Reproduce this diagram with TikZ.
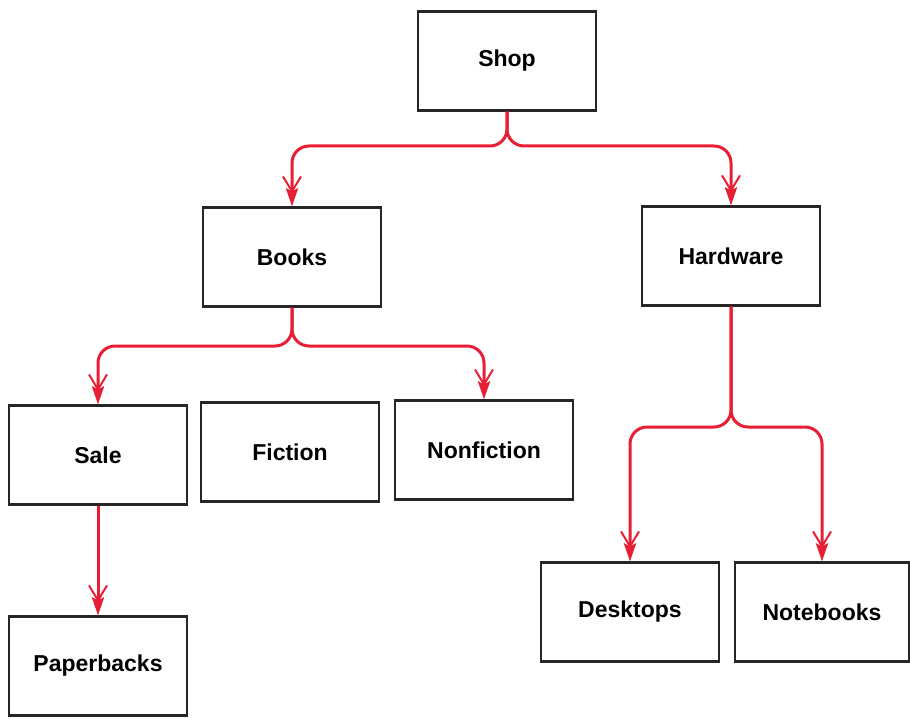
\documentclass[tikz,border=0pt]{standalone}
\usepackage{fontspec}
\setmainfont{Liberation Sans}
\usetikzlibrary{arrows.meta}
\definecolor{linkred}{RGB}{232,30,52}
\begin{document}
\begin{tikzpicture}[x=1pt,y=-1pt,
  box/.style={draw=black!85, line width=2.2pt, fill=white, minimum width=178pt,
    minimum height=99pt, inner sep=0pt, font=\fontsize{23}{27}\selectfont\bfseries},
  link/.style={draw=linkred, line width=3pt, rounded corners=17pt,
    -{Straight Barb[length=15pt,width=18pt,line width=2pt,sep=-5pt]Stealth[length=18pt,width=12pt,inset=3pt]}}]
  \useasboundingbox (0,0) rectangle (910,719);
  \fill[white] (0,0) rectangle (910,719);

  % tree nodes
  \node[box] (shop)  at (507,61)  {Shop};
  \node[box] (books) at (292,257) {Books};
  \node[box] (hard)  at (731,256) {Hardware};
  \node[box] (sale)  at (98,455)  {Sale};
  \node[box] (fict)  at (290,452) {Fiction};
  \node[box] (nonf)  at (484,450) {Nonfiction};
  \node[box] (paper) at (98,666)  {Paperbacks};
  \node[box] (desk)  at (630,612) {Desktops};
  \node[box, minimum width=174pt] (note) at (822,612) {Notebooks};

  % branching connectors
  \draw[link] (shop.south) -- (shop.south |- 0,146) -| (books.north);
  \draw[link] (shop.south) -- (shop.south |- 0,146) -| (hard.north);
  \draw[link] (books.south) -- (books.south |- 0,346) -| (sale.north);
  \draw[link] (books.south) -- (books.south |- 0,346) -| (nonf.north);
  \draw[link] (hard.south) -- (hard.south |- 0,427) -| (desk.north);
  \draw[link] (hard.south) -- (hard.south |- 0,427) -| (note.north);
  \draw[link] (sale.south) -- (paper.north);
\end{tikzpicture}
\end{document}
